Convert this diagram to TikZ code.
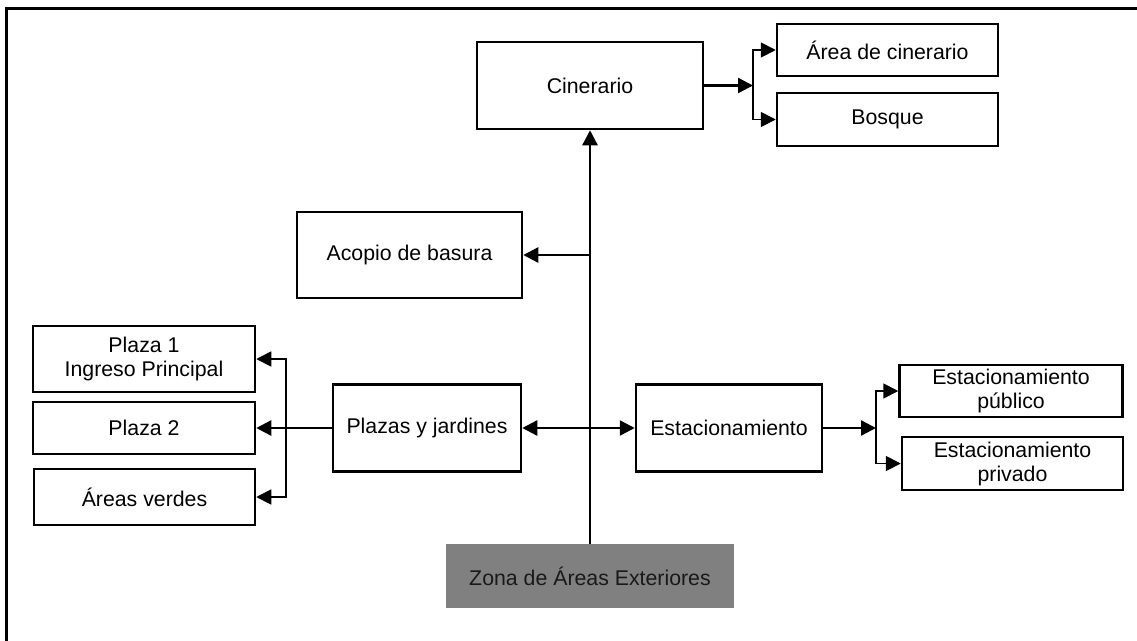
\documentclass[tikz,border=0pt]{standalone}
\usepackage{fontspec}
\setmainfont{Liberation Sans}
\usetikzlibrary{arrows.meta,calc}
\begin{document}
\begin{tikzpicture}[x=1pt,y=-1pt,
  >={Triangle[length=15pt,width=15pt]},
  box/.style={draw=black,line width=2.5pt,rectangle,inner sep=0pt,align=center,
    font=\fontsize{21.3}{24}\selectfont},
  conn/.style={draw=black,line width=2.4pt},
  br/.style={draw=black,line width=1.8pt}]
\useasboundingbox (0,0) rectangle (1137,640);
% frame
\draw[line width=2.6pt] (6.2,660) -- (6.2,8.5) -- (1160,8.5);
% nodes
\node[box,minimum width=226pt,minimum height=87pt] (cin) at (590,85.5) {Cinerario};
\node[box,minimum width=221pt,minimum height=52pt] (area) at (887.5,50) {Área de cinerario};
\node[box,minimum width=221pt,minimum height=53pt] (bos) at (887.5,119.5) {Bosque};
\node[box,minimum width=225pt,minimum height=86pt] (aco) at (409.5,255) {Acopio de basura};
\node[box,minimum width=222pt,minimum height=66pt] (p1) at (144,359) {Plaza 1\\Ingreso Principal};
\node[box,minimum width=222pt,minimum height=52pt] (p2) at (144,428) {Plaza 2};
\node[box,minimum width=221pt,minimum height=56pt] (av) at (144.5,497) {Áreas verdes};
\node[box,minimum width=188pt,minimum height=87pt] (pj) at (427,428) {Plazas y jardines};
\node[box,minimum width=186pt,minimum height=87pt] (est) at (729,428) {Estacionamiento};
\node[box,minimum width=223pt,minimum height=52pt] (pub) at (1011,391) {Estacionamiento\\público};
\node[box,minimum width=221pt,minimum height=53pt] (priv) at (1012.5,463.5) {Estacionamiento\\privado};
\node[fill=black!50,inner sep=0pt,minimum width=288pt,minimum height=64pt,
  font=\fontsize{21.3}{24}\selectfont,text=black!90] (zona) at (590,576) {Zona de Áreas Exteriores};
% junction coordinates
\coordinate (cj) at (753,85.5);
\coordinate (pb) at (286,428);
\coordinate (ej) at (876,428);
% connectors
\draw[conn,->] (zona.north) -- (cin.south);
\draw[conn,->] (cin.south |- aco.east) -- (aco.east);
\draw[conn,->] (cin.east) -- (cj);
\draw[br,<->] (area.west) -- (cj |- area.west) -- (cj |- bos.west) -- (bos.west);
\draw[br,<->] (p1.east) -- (pb |- p1.east) -- (pb |- av.east) -- (av.east);
\draw[conn,->] (pj.west) -- (p2.east);
\draw[conn,<->] (pj.east) -- (est.west);
\draw[conn,->] (est.east) -- (ej);
\draw[br,<->] (pub.west) -- (ej |- pub.west) -- (ej |- priv.west) -- (priv.west);
\end{tikzpicture}
\end{document}
